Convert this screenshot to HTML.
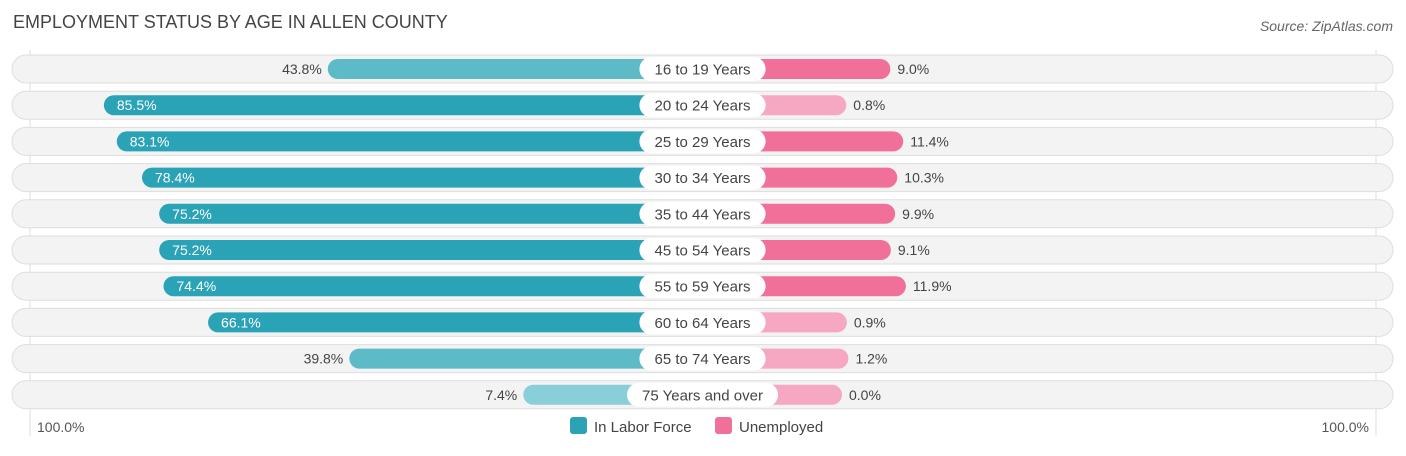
<!DOCTYPE html>
<html><head><meta charset="utf-8"><style>
body{margin:0;width:1406px;height:451px;background:#fff;font-family:"Liberation Sans",sans-serif;overflow:hidden}
</style></head><body>
<svg width="1406" height="451" id="c" xmlns="http://www.w3.org/2000/svg">
<text x="13" y="28" font-size="18" fill="#444">EMPLOYMENT STATUS BY AGE IN ALLEN COUNTY</text>
<text x="1393" y="31" font-size="14" fill="#666" font-style="italic" text-anchor="end">Source: ZipAtlas.com</text>
<line x1="30" y1="50" x2="30" y2="436" stroke="#ddd"/>
<line x1="1376" y1="50" x2="1376" y2="436" stroke="#ddd"/>
<g id="rows"></g>
<text x="37" y="432" font-size="14" fill="#555">100.0%</text>
<text x="1369" y="432" font-size="14" fill="#555" text-anchor="end">100.0%</text>
<g><rect x="570" y="417" width="17" height="17" rx="3" fill="#2ba3b6"/><text x="594" y="432" font-size="15" fill="#444">In Labor Force</text></g>
<g><rect x="715" y="417" width="17" height="17" rx="3" fill="#f07099"/><text x="739" y="432" font-size="15" fill="#444">Unemployed</text></g>
</svg>
<script>
const categories=["16 to 19 Years","20 to 24 Years","25 to 29 Years","30 to 34 Years","35 to 44 Years","45 to 54 Years","55 to 59 Years","60 to 64 Years","65 to 74 Years","75 Years and over"];
const laborForce=[43.8,85.5,83.1,78.4,75.2,75.2,74.4,66.1,39.8,7.4];
const unemployed=[9.0,0.8,11.4,10.3,9.9,9.1,11.9,0.9,1.2,0.0];
const NS="http://www.w3.org/2000/svg";
const g=document.getElementById('rows');
const leftOrigin=563,rightOrigin=842,k=5.37;
const xL=v=>leftOrigin-k*v, xR=v=>rightOrigin+k*v;
const yC=i=>69+i*36.2;
function mk(t,a,p){const e=document.createElementNS(NS,t);for(const n in a)e.setAttribute(n,a[n]);(p||g).appendChild(e);return e;}
categories.forEach((c,i)=>{
  const y=yC(i);
  const bg=mk('rect',{x:12,y:y-14,width:1381,height:28,rx:14,fill:'#f3f3f3',stroke:'#dedede'});
  
  
  const lv=laborForce[i],uv=unemployed[i];
  const lx=xL(lv);
  const lb=mk('rect',{x:lx,y:y-10,width:702.5-lx,height:20,rx:10,fill:lv>60?'#2ba3b6':(lv>20?'#5dbac7':'#88cfd9')});
  
  
  const rx=xR(uv);
  const rb=mk('rect',{x:702.5,y:y-10,width:rx-702.5,height:20,rx:10,fill:uv>5?'#f07099':'#f6a8c2'});
  
  
  const inside=lv>60;
  const lt=mk('text',{x:inside?lx+13:lx-6,y:y+5,'font-size':14,fill:inside?'#fff':'#444','text-anchor':inside?'start':'end'});
  lt.textContent=lv.toFixed(1)+'%';
  
  
  const rt=mk('text',{x:rx+7,y:y+5,'font-size':14,fill:'#444'});
  rt.textContent=uv.toFixed(1)+'%';
  
  
  const w=c.length*8.3+10;
  const pill=mk('rect',{x:702.5-w/2,y:y-12,width:w,height:24,rx:12,fill:'#fff'});
  
  
  const ct=mk('text',{x:702.5,y:y+5.5,'font-size':15,fill:'#444','text-anchor':'middle'});
  ct.textContent=c;
  
  
});
</script>
</body></html>
